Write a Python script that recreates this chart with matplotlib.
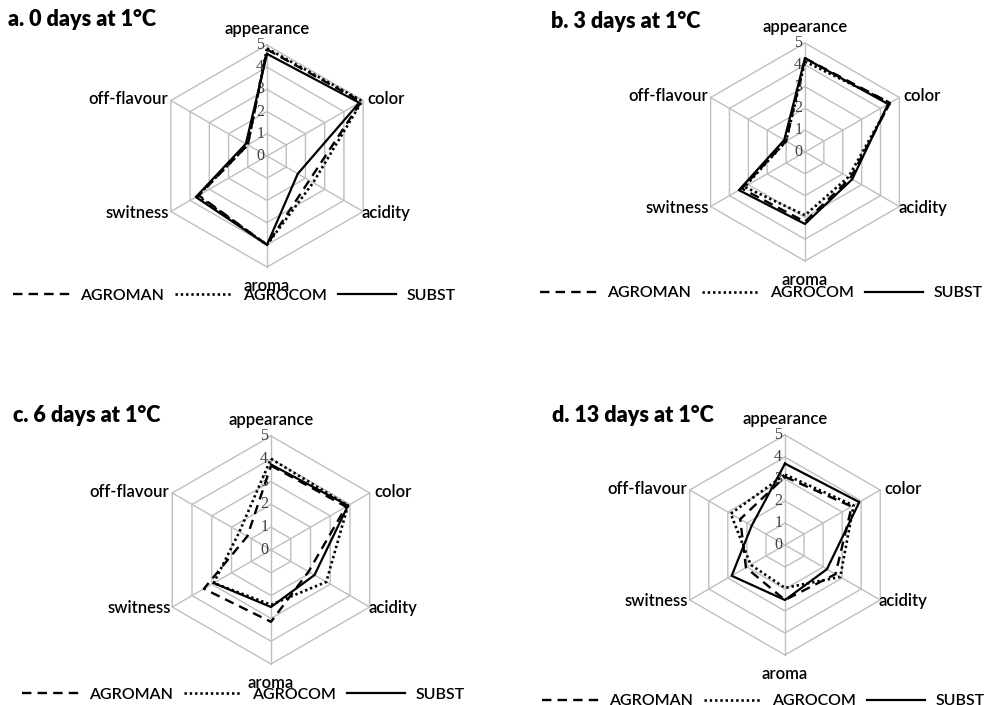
import numpy as np
import matplotlib.pyplot as plt

plt.rcParams['font.family'] = ['Lato', 'DejaVu Sans']

categories = ['appearance', 'color', 'acidity', 'aroma', 'switness', 'off-flavour']
series_names = ['AGROMAN', 'AGROCOM', 'SUBST']
titles = ['a. 0 days at 1°C', 'b. 3 days at 1°C', 'c. 6 days at 1°C', 'd. 13 days at 1°C']
scale_labels = [0, 1, 2, 3, 4, 5]

# values (order follows categories)
agroman_0 = [4.8, 4.9, 2.2, 4.0, 3.55, 1.0]
agrocom_0 = [4.85, 4.95, 2.4, 4.0, 3.6, 1.0]
subst_0 = [4.6, 4.8, 1.6, 4.0, 3.7, 1.1]

agroman_3 = [4.3, 4.5, 2.4, 3.2, 3.35, 1.0]
agrocom_3 = [4.15, 4.5, 2.3, 2.9, 3.2, 1.0]
subst_3 = [4.3, 4.4, 2.5, 3.3, 3.5, 1.1]

agroman_6 = [3.7, 3.8, 1.9, 3.15, 3.4, 1.2]
agrocom_6 = [4.0, 3.9, 2.8, 2.4, 2.9, 1.6]
subst_6 = [3.75, 3.9, 2.2, 2.5, 2.9, np.nan]  # no off-flavour point drawn

agroman_13 = [3.1, 3.5, 2.65, 2.5, 2.05, 2.35]
agrocom_13 = [3.2, 3.6, 2.9, 1.95, 1.8, 2.85]
subst_13 = [3.7, 3.9, 2.2, 2.5, 2.8, 1.75]

panel_data = [
    [agroman_0, agrocom_0, subst_0],
    [agroman_3, agrocom_3, subst_3],
    [agroman_6, agrocom_6, subst_6],
    [agroman_13, agrocom_13, subst_13],
]

W, H = 985, 705
fig = plt.figure(figsize=(W / 100, H / 100), dpi=100)

# center x, center y, radius, title x, title y, legend center x, legend y (pixels)
layout = [
    (267, 156, 111, 8, 20, 234, 296),
    (805, 152, 109, 551, 22, 761, 293),
    (271, 550, 114, 13, 415, 243, 695),
    (785, 545, 110, 552, 415, 763, 701),
]

styles = [
    dict(linestyle=(0, (4, 2.6)), linewidth=1.7),
    dict(linestyle=(0, (0.9, 1.1)), linewidth=1.9),
    dict(linestyle='-', linewidth=1.6),
]

theta = np.linspace(0, 2 * np.pi, len(categories) + 1)
grid_col = '#BFBFBF'

label_pos = [
    ((0, 6), 'center', 'bottom'),
    ((3, 1), 'left', 'center'),
    ((-1, -1), 'left', 'center'),
    ((0, -8), 'center', 'top'),
    ((-1, -1), 'right', 'center'),
    ((-2, 1), 'right', 'center'),
]

for (cx, cy, rad, tx, ty, lx, ly), data, title in zip(layout, panel_data, titles):
    ax = fig.add_axes([(cx - rad) / W, (H - cy - rad) / H, 2 * rad / W, 2 * rad / H],
                      projection='polar')
    ax.set_theta_offset(np.pi / 2)
    ax.set_theta_direction(-1)
    ax.set_ylim(0, 5)
    ax.axis('off')

    for r in scale_labels[1:]:
        ax.plot(theta, [r] * len(theta), color=grid_col, lw=1.0, clip_on=False, zorder=1)
    for a in theta[:-1]:
        ax.plot([a, a], [0, 5], color=grid_col, lw=1.0, clip_on=False, zorder=1)

    handles = []
    for vals, name, st in zip(data, series_names, styles):
        closed = list(vals) + [vals[0]]
        ln, = ax.plot(theta, closed, color='black', label=name, clip_on=False, zorder=3, **st)
        handles.append(ln)

    for v in scale_labels:
        ax.annotate(str(v), xy=(0, v), xytext=(-2, 0), textcoords='offset points',
                    ha='right', va='center', fontsize=11.5, color='#404040',
                    family='Liberation Serif', zorder=2)

    for a, cat, (off, ha, va) in zip(theta[:-1], categories, label_pos):
        ax.annotate(cat, xy=(a, 5), xytext=off, textcoords='offset points',
                    ha=ha, va=va, fontsize=12, fontweight='semibold',
                    annotation_clip=False)

    fig.text(tx / W, 1 - ty / H, title, fontsize=15.5, fontweight='heavy',
             ha='left', va='center')

    ax.legend(handles=handles, loc='center', bbox_to_anchor=(lx / W, 1 - ly / H),
              bbox_transform=fig.transFigure, ncol=3, frameon=False,
              prop=dict(size=11.5, weight='semibold'),
              handlelength=3.6, handletextpad=0.65, columnspacing=0.7,
              borderaxespad=0, borderpad=0)

fig.savefig('out.png', dpi=100)
